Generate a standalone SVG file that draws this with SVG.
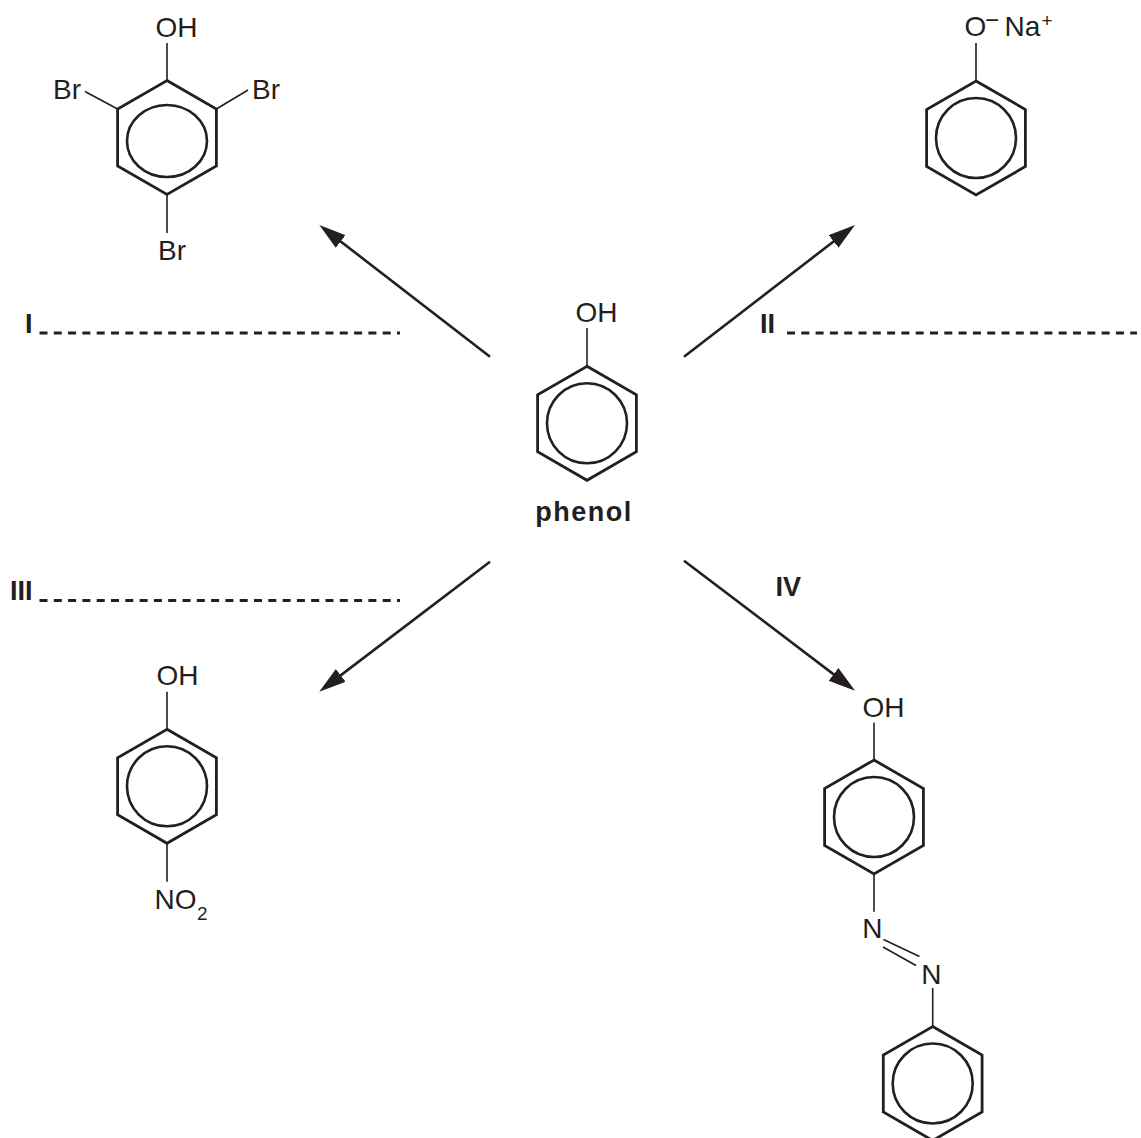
<svg xmlns="http://www.w3.org/2000/svg" xmlns:xlink="http://www.w3.org/1999/xlink" width="1141" height="1138" viewBox="0 0 1141 1138">
<style>
  .ring { fill: none; stroke: #231f20; stroke-width: 2.8; stroke-linejoin: miter; }
  .inner { fill: none; stroke: #231f20; stroke-width: 2.6; }
  .bond { stroke: #231f20; stroke-width: 1.6; fill: none; }
  .arrow { stroke: #231f20; stroke-width: 2.6; fill: none; }
  .dash { stroke: #231f20; stroke-width: 3; stroke-dasharray: 8 6.3; fill: none; }
  .t { font-family: "Liberation Sans", Arial, sans-serif; font-size: 28px; fill: #231f20; }
  .sup { font-family: "Liberation Sans", Arial, sans-serif; font-size: 19px; fill: #231f20; }
  .b { font-family: "Liberation Sans", Arial, sans-serif; font-size: 27px; font-weight: bold; fill: #231f20; }
</style>
<defs>
  <g id="hex">
    <polygon class="ring" points="0,-57 49.4,-28.5 49.4,28.5 0,57 -49.4,28.5 -49.4,-28.5"/>
  </g>
  <g id="benzene">
    <use xlink:href="#hex"/>
    <circle class="inner" cx="0" cy="0" r="40"/>
  </g>
  <marker id="ah" markerUnits="userSpaceOnUse" markerWidth="28" markerHeight="18" refX="15" refY="8" orient="auto">
    <path d="M0,0 L27,8 L0,16 Z" fill="#231f20"/>
  </marker>
</defs>
<rect width="1141" height="1138" fill="#ffffff"/>

<g id="tribromophenol">
  <use xlink:href="#hex" transform="translate(167,137.5)"/>
  <ellipse class="inner" cx="167" cy="141" rx="40" ry="36"/>
  <line class="bond" x1="167" y1="80.5" x2="167" y2="43"/>
  <line class="bond" x1="117.6" y1="109" x2="85" y2="91.5"/>
  <line class="bond" x1="216.4" y1="109" x2="248" y2="90"/>
  <line class="bond" x1="167" y1="194.5" x2="167" y2="233"/>
  <text class="t" x="155.5" y="37">OH</text>
  <text class="t" x="53" y="99">Br</text>
  <text class="t" x="252" y="99">Br</text>
  <text class="t" x="158" y="260">Br</text>
</g>

<g id="sodium-phenoxide">
  <use xlink:href="#benzene" transform="translate(976,138)"/>
  <line class="bond" x1="976" y1="81" x2="976" y2="43"/>
  <text class="t" x="964.5" y="36">O</text>
  <text class="sup" x="985" y="27.5" style="font-size:24px">−</text>
  <text class="t" x="1004.5" y="36">Na</text>
  <text class="sup" x="1041.5" y="26.5">+</text>
</g>

<g id="phenol">
  <use xlink:href="#benzene" transform="translate(587,423.3)"/>
  <line class="bond" x1="587" y1="366.3" x2="587" y2="328"/>
  <text class="t" x="575.5" y="321.7">OH</text>
  <text class="b" x="584" y="520.5" text-anchor="middle" letter-spacing="1.5">phenol</text>
</g>

<g id="nitrophenol">
  <use xlink:href="#benzene" transform="translate(167,786.3)"/>
  <line class="bond" x1="167" y1="729.3" x2="167" y2="691.7"/>
  <line class="bond" x1="167" y1="843.3" x2="167" y2="881.7"/>
  <text class="t" x="156.5" y="685">OH</text>
  <text class="t" x="154.6" y="909.3">NO</text>
  <text class="sup" x="197" y="920">2</text>
</g>

<g id="azo-compound">
  <use xlink:href="#benzene" transform="translate(874,817)"/>
  <line class="bond" x1="874" y1="760" x2="874" y2="722.7"/>
  <line class="bond" x1="874" y1="874" x2="874" y2="911.7"/>
  <text class="t" x="862.5" y="716.7">OH</text>
  <text class="t" x="862.2" y="938.3">N</text>
  <line class="bond" x1="883.5" y1="939.5" x2="919.5" y2="956.5"/>
  <line class="bond" x1="883" y1="947" x2="916" y2="965.5"/>
  <text class="t" x="921.2" y="984">N</text>
  <line class="bond" x1="932.7" y1="988" x2="932.7" y2="1026.5"/>
  <use xlink:href="#benzene" transform="translate(932.7,1083.5)"/>
</g>

<g id="answer-lines">
  <text class="b" x="25" y="332.5">I</text>
  <line class="dash" x1="39.5" y1="333" x2="400" y2="333"/>
  <text class="b" x="760" y="332.5">II</text>
  <line class="dash" x1="787" y1="333" x2="1137" y2="333"/>
  <text class="b" x="10" y="599.5">III</text>
  <line class="dash" x1="39.5" y1="600.5" x2="400" y2="600.5"/>
  <text class="b" x="775.5" y="596">IV</text>
</g>

<g id="connectors">
  <line class="arrow" x1="490" y1="356.7" x2="328.8" y2="232.3" marker-end="url(#ah)"/>
  <line class="arrow" x1="684" y1="356.7" x2="845.5" y2="232.3" marker-end="url(#ah)"/>
  <line class="arrow" x1="490" y1="561.7" x2="328.8" y2="684.4" marker-end="url(#ah)"/>
  <line class="arrow" x1="684" y1="560.7" x2="845.5" y2="683.4" marker-end="url(#ah)"/>
</g>
</svg>
